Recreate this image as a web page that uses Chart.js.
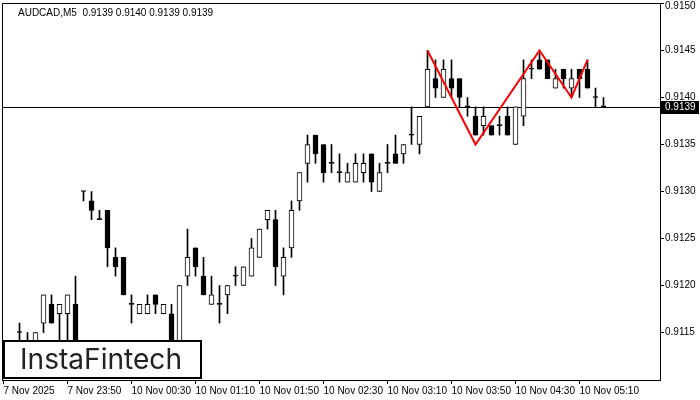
<!DOCTYPE html>
<html>
<head>
<meta charset="utf-8">
<script src="https://cdn.jsdelivr.net/npm/chart.js@4.4.1/dist/chart.umd.min.js"></script>
<style>
  html, body { margin: 0; padding: 0; background: #fff; }
  canvas { display: block; }
</style>
</head>
<body>
<canvas id="chart" width="700" height="400"></canvas>
<script>
// AUDCAD M5 candles
const candleOpen = [
  0.91130, 0.91135, 0.91150, 0.91135, 0.91135, 0.91160, 0.91180, 0.91170, 0.91170, 0.91180,
  0.91300, 0.91290, 0.91270, 0.91280, 0.91230, 0.91230, 0.91180, 0.91170, 0.91170, 0.91190,
  0.91170, 0.91170, 0.91135, 0.91210, 0.91240, 0.91210, 0.91180, 0.91180, 0.91190, 0.91210,
  0.91200, 0.91210, 0.91230, 0.91270, 0.91270, 0.91210, 0.91240, 0.91290, 0.91330, 0.91360,
  0.91350, 0.91330, 0.91320, 0.91310, 0.91310, 0.91320, 0.91340, 0.91300, 0.91330, 0.91340,
  0.91340, 0.91360, 0.91350, 0.91390, 0.91420, 0.91400, 0.91420, 0.91420, 0.91390, 0.91380,
  0.91370, 0.91370, 0.91370, 0.91380, 0.91350, 0.91380, 0.91430, 0.91440, 0.91440, 0.91410,
  0.91430, 0.91410, 0.91430, 0.91430, 0.91400, 0.91390
];
const candleHigh = [
  0.91138, 0.91138, 0.91160, 0.91150, 0.91150, 0.91190, 0.91190, 0.91180, 0.91190, 0.91210,
  0.91300, 0.91300, 0.91280, 0.91280, 0.91240, 0.91230, 0.91190, 0.91180, 0.91190, 0.91190,
  0.91180, 0.91180, 0.91200, 0.91260, 0.91240, 0.91230, 0.91210, 0.91200, 0.91200, 0.91220,
  0.91220, 0.91250, 0.91260, 0.91280, 0.91280, 0.91240, 0.91290, 0.91320, 0.91360, 0.91360,
  0.91350, 0.91350, 0.91340, 0.91330, 0.91340, 0.91340, 0.91340, 0.91330, 0.91350, 0.91360,
  0.91350, 0.91390, 0.91380, 0.91450, 0.91440, 0.91440, 0.91440, 0.91420, 0.91400, 0.91390,
  0.91390, 0.91370, 0.91380, 0.91390, 0.91390, 0.91440, 0.91440, 0.91450, 0.91440, 0.91430,
  0.91430, 0.91430, 0.91430, 0.91440, 0.91410, 0.91400
];
const candleLow = [
  0.91120, 0.91125, 0.91130, 0.91130, 0.91130, 0.91150, 0.91160, 0.91130, 0.91135, 0.91120,
  0.91290, 0.91270, 0.91270, 0.91220, 0.91210, 0.91190, 0.91160, 0.91170, 0.91170, 0.91170,
  0.91170, 0.91130, 0.91130, 0.91200, 0.91210, 0.91190, 0.91180, 0.91160, 0.91170, 0.91200,
  0.91200, 0.91210, 0.91230, 0.91260, 0.91200, 0.91190, 0.91230, 0.91280, 0.91310, 0.91330,
  0.91310, 0.91320, 0.91310, 0.91310, 0.91310, 0.91310, 0.91300, 0.91300, 0.91320, 0.91330,
  0.91330, 0.91350, 0.91340, 0.91390, 0.91400, 0.91400, 0.91400, 0.91390, 0.91380, 0.91360,
  0.91360, 0.91360, 0.91360, 0.91360, 0.91350, 0.91370, 0.91420, 0.91430, 0.91420, 0.91410,
  0.91410, 0.91400, 0.91400, 0.91410, 0.91390, 0.91390
];
const candleClose = [
  0.91135, 0.91130, 0.91150, 0.91138, 0.91150, 0.91190, 0.91160, 0.91180, 0.91190, 0.91130,
  0.91300, 0.91280, 0.91270, 0.91240, 0.91220, 0.91190, 0.91180, 0.91180, 0.91180, 0.91180,
  0.91180, 0.91135, 0.91200, 0.91230, 0.91220, 0.91190, 0.91190, 0.91180, 0.91200, 0.91210,
  0.91220, 0.91240, 0.91260, 0.91280, 0.91220, 0.91230, 0.91280, 0.91320, 0.91350, 0.91340,
  0.91320, 0.91330, 0.91320, 0.91320, 0.91330, 0.91330, 0.91310, 0.91320, 0.91330, 0.91330,
  0.91350, 0.91360, 0.91380, 0.91430, 0.91410, 0.91430, 0.91410, 0.91400, 0.91390, 0.91360,
  0.91380, 0.91360, 0.91370, 0.91360, 0.91390, 0.91420, 0.91430, 0.91430, 0.91420, 0.91420,
  0.91420, 0.91420, 0.91420, 0.91410, 0.91400, 0.91390
];

// red pattern line (bar index, price)
const patternIdx = [53, 59, 67, 71, 73];
const patternPrice = [0.91450, 0.91350, 0.91450, 0.91400, 0.91440];

const xTickIdx = [0, 8, 16, 24, 32, 40, 48, 56, 64, 72];
const xTickLabels = ['7 Nov 2025', '7 Nov 23:50', '10 Nov 00:30', '10 Nov 01:10', '10 Nov 01:50',
  '10 Nov 02:30', '10 Nov 03:10', '10 Nov 03:50', '10 Nov 04:30', '10 Nov 05:10'];
const yTicks = [0.9115, 0.9120, 0.9125, 0.9130, 0.9135, 0.9140, 0.9145, 0.9150];

const currentPrice = 0.9139;
const titleText = 'AUDCAD,M5  0.9139 0.9140 0.9139 0.9139';
const FONT = '"Liberation Sans", Arial, sans-serif';

const wickData = candleOpen.map((o, i) => ({ x: i, y: [candleLow[i], candleHigh[i]] }));
const bodyData = candleOpen.map((o, i) => ({ x: i, y: [o, candleClose[i]] }));
const bodyColors = candleOpen.map((o, i) => candleClose[i] > o ? '#ffffff' : '#000000');
const patternData = patternIdx.map((x, i) => ({ x: x, y: patternPrice[i] }));
const topTick = yTicks[yTicks.length - 1];

const overlay = {
  id: 'overlay',
  beforeDraw(chart) {
    const ctx = chart.ctx;
    ctx.save();
    ctx.fillStyle = '#fff';
    ctx.fillRect(0, 0, chart.width, chart.height);
    ctx.restore();
  },
  beforeDatasetsDraw(chart) {
    const ctx = chart.ctx, ca = chart.chartArea;
    const py = Math.round(chart.scales.y.getPixelForValue(currentPrice)) + 0.5;
    ctx.save();
    ctx.strokeStyle = '#000';
    ctx.lineWidth = 1;
    ctx.beginPath();
    ctx.moveTo(ca.left, py);
    ctx.lineTo(ca.right, py);
    ctx.stroke();
    ctx.restore();
  },
  afterDraw(chart) {
    const ctx = chart.ctx, ca = chart.chartArea;
    ctx.save();
    // frame
    ctx.strokeStyle = '#000';
    ctx.lineWidth = 1;
    ctx.strokeRect(ca.left + 0.5, ca.top + 0.5, ca.right - ca.left, ca.bottom - ca.top);

    // title
    ctx.fillStyle = '#000';
    ctx.font = '10px ' + FONT;
    ctx.textAlign = 'left';
    ctx.textBaseline = 'middle';
    ctx.fillText(titleText, 18, 13);

    // current price box
    const py = Math.round(chart.scales.y.getPixelForValue(currentPrice));
    ctx.fillStyle = '#000';
    ctx.fillRect(ca.right + 1, py - 6, 38, 13);
    ctx.fillStyle = '#fff';
    ctx.fillText(currentPrice.toFixed(4), ca.right + 5, py + 0.5);

    // logo
    ctx.fillStyle = '#fff';
    ctx.fillRect(3, 340, 199, 39);
    ctx.strokeStyle = '#000';
    ctx.lineWidth = 2;
    ctx.strokeRect(4, 341, 197, 37);
    ctx.fillStyle = '#222';
    ctx.font = '400 25px Inter, "Noto Sans", sans-serif';
    const w = ctx.measureText('InstaFintech').width;
    const size = 25 * 162 / w;
    ctx.font = '400 ' + size.toFixed(1) + 'px Inter, "Noto Sans", sans-serif';
    ctx.textBaseline = 'alphabetic';
    ctx.fillText('InstaFintech', 20, 369);
    ctx.restore();
  }
};

new Chart(document.getElementById('chart'), {
  type: 'bar',
  data: {
    datasets: [
      {
        type: 'line',
        data: patternData,
        borderColor: '#ff0000',
        borderWidth: 2,
        pointRadius: 0,
        tension: 0,
        fill: false,
        order: 1
      },
      {
        data: bodyData,
        backgroundColor: bodyColors,
        borderColor: '#000',
        borderWidth: 1,
        borderSkipped: false,
        barThickness: 5,
        minBarLength: 1,
        grouped: false,
        order: 2
      },
      {
        data: wickData,
        backgroundColor: '#000',
        borderWidth: 0,
        barThickness: 1,
        grouped: false,
        order: 3
      }
    ]
  },
  options: {
    responsive: false,
    animation: false,
    devicePixelRatio: 1,
    layout: { padding: { left: 2, top: 3, right: 0, bottom: 0 } },
    plugins: { legend: { display: false }, tooltip: { enabled: false } },
    scales: {
      x: {
        type: 'linear',
        offset: false,
        min: -0.1875,
        max: 82.0625,
        afterFit(scale) {
          scale.height = 20;
          scale.paddingLeft = 0; scale.paddingRight = 0;
        },
        afterBuildTicks(scale) { scale.ticks = xTickIdx.map(v => ({ value: v })); },
        border: { display: false },
        grid: { drawOnChartArea: false, drawTicks: true, tickLength: 4, color: '#000', offset: false },
        ticks: {
          autoSkip: false,
          maxRotation: 0,
          align: 'start',
          padding: 1,
          color: '#000',
          font: { family: FONT, size: 10 },
          callback: (v) => xTickLabels[xTickIdx.indexOf(v)]
        }
      },
      y: {
        type: 'linear',
        position: 'right',
        min: 0.910995,
        max: 0.915005,
        afterFit(scale) {
          scale.width = 40;
          scale.paddingTop = 0; scale.paddingBottom = 0;
        },
        afterBuildTicks(scale) { scale.ticks = yTicks.map(v => ({ value: v })); },
        border: { display: false },
        grid: { drawOnChartArea: false, drawTicks: true, tickLength: 4, color: '#000' },
        ticks: {
          padding: 1,
          color: '#000',
          font: (c) => ({
            family: FONT, size: 10,
            lineHeight: (c.tick && Math.abs(c.tick.value - topTick) < 1e-9) ? 0.6 : 1.2
          }),
          // top label is pushed a few pixels down so it stays inside the canvas
          callback: (v) => Math.abs(v - topTick) < 1e-9 ? ['', v.toFixed(4)] : v.toFixed(4)
        }
      }
    }
  },
  plugins: [overlay]
});
</script>
</body>
</html>
